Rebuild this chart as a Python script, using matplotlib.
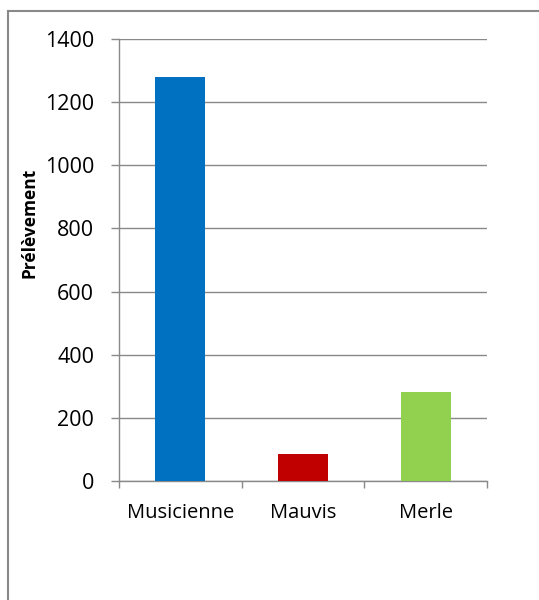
import matplotlib
matplotlib.use("Agg")
import matplotlib.pyplot as plt
from matplotlib.patches import Rectangle

categories = ["Musicienne", "Mauvis", "Merle"]
values = [1280, 86, 283]
colors = ["#0070C0", "#C00000", "#92D050"]
yticks = [0, 200, 400, 600, 800, 1000, 1200, 1400]

W, H = 539, 600
fig = plt.figure(figsize=(W / 100, H / 100), dpi=100)
plt.rcParams['font.family'] = ['Open Sans', 'DejaVu Sans']

# outer border (extends past right and bottom edges)
fig.patches.append(Rectangle((8 / W, -0.1), 1.2, (H - 11) / H + 0.1,
                             transform=fig.transFigure, fill=False,
                             edgecolor="#898989", linewidth=1.5))

ax = fig.add_axes([119 / W, 1 - 481 / H, (487 - 119) / W, (481 - 39) / H])
x = range(len(categories))
ax.bar(x, values, width=0.41, color=colors, zorder=3)
ax.set_xlim(-0.5, 2.5)
ax.set_ylim(0, 1400)
ax.set_yticks(yticks)
ax.set_yticklabels([str(v) for v in yticks], fontsize=15.5)
ax.set_xticks([-0.5, 0.5, 1.5, 2.5], minor=False)
ax.set_xticklabels([])
ax.set_xticks(list(x), minor=True)
ax.set_xticklabels(categories, minor=True, fontsize=14.5)
ax.tick_params(axis='x', which='minor', length=0, pad=16)
ax.tick_params(axis='x', which='major', length=5, color="#898989", width=1)
ax.tick_params(axis='y', length=6, color="#898989", width=1, pad=12)
ax.yaxis.grid(True, color="#898989", linewidth=1, zorder=0)
for s in ["top", "right"]:
    ax.spines[s].set_visible(False)
for s in ["left", "bottom"]:
    ax.spines[s].set_color("#898989")
    ax.spines[s].set_linewidth(1)
ax.set_ylabel("Prélèvement", fontsize=12.5, fontweight="bold")
ax.yaxis.set_label_coords(-0.22, 0.585)

fig.savefig("out.png", dpi=100)
